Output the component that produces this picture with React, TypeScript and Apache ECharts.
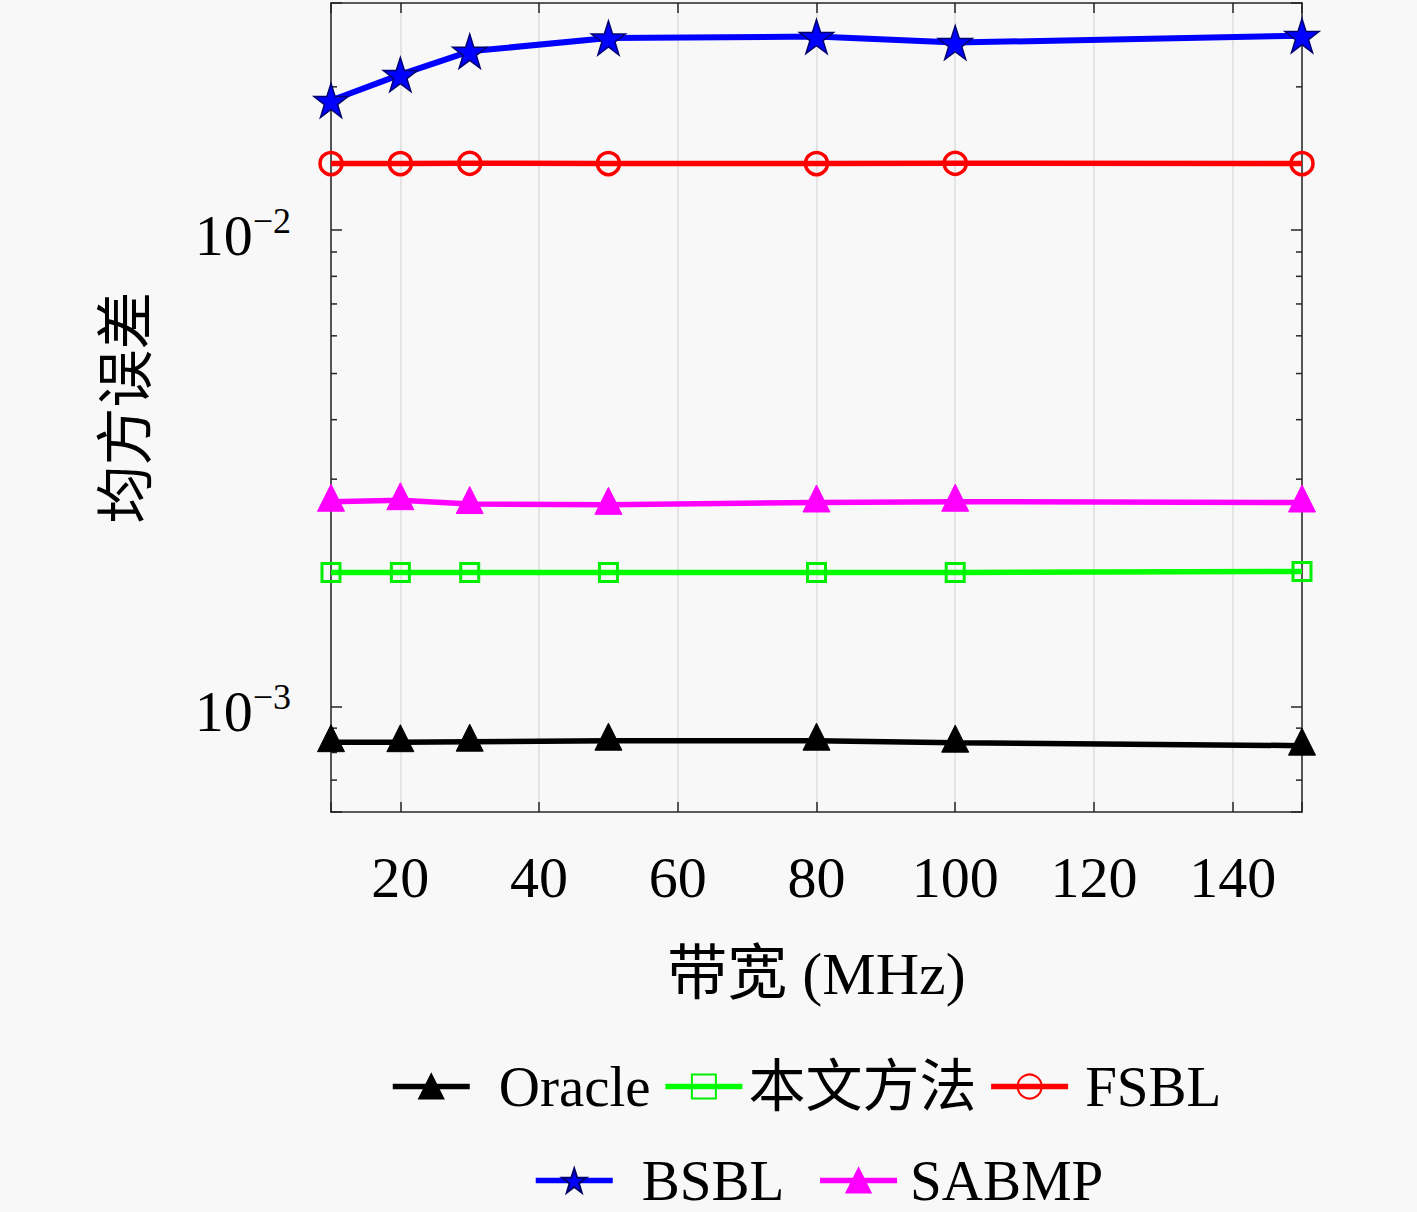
import React, { useEffect, useRef } from "react";
import * as echarts from "echarts";

const X_VALUES = [10, 20, 30, 50, 80, 100, 150];
const X_TICK_LABELS = [20, 40, 60, 80, 100, 120, 140];
const ORACLE = [0.000841, 0.000841, 0.000843, 0.000847, 0.000847, 0.000839, 0.000827];
const PROPOSED = [0.00191, 0.00191, 0.00191, 0.00191, 0.00191, 0.00191, 0.00192];
const FSBL = [0.0138, 0.0138, 0.01382, 0.0138, 0.0138, 0.01382, 0.0138];
const BSBL = [0.01872, 0.02122, 0.02375, 0.02533, 0.0255, 0.02477, 0.02562];
const SABMP = [0.00269, 0.00271, 0.00266, 0.00265, 0.00268, 0.00269, 0.00268];
const Y_TICK_LABELS = [0.001, 0.01];
const Y_MINOR_TICKS = [0.0007, 0.0008, 0.0009, 0.002, 0.003, 0.004, 0.005, 0.006, 0.007, 0.008, 0.009, 0.02];

const X_MIN = 10;
const X_MAX = 150;
const Y_MIN = 0.0006;
const Y_MAX = 0.03;

const FONT = "'Liberation Serif', 'Noto Sans CJK SC', serif";
const AXIS_COLOR = "#262626";
const STAR =
  "path://M50,0 L61.8,35.4 L98.9,35.4 L68.9,57.3 L80.3,92.7 L50,70.8 L19.7,92.7 L31.1,57.3 L1.1,35.4 L38.2,35.4 Z";

const pair = (ys: number[]) => X_VALUES.map((x, i) => [x, ys[i]]);

export default function App() {
  const ref = useRef<HTMLDivElement>(null);
  useEffect(() => {
    if (!ref.current) return;
    const chart = echarts.init(ref.current, undefined, { renderer: "svg" });
    const axisLineStyle = { color: AXIS_COLOR, width: 1.5 };
    const LW = 5.5;
    const legendText = { fontSize: 57, lineHeight: 54, fontFamily: FONT, color: "#000" };
    const option: any = {
      animation: false,
      backgroundColor: "#f8f8f8",
      grid: { left: 331, right: 115, top: 3, bottom: 400 },
      legend: [
        {
          left: 390,
          top: 1058,
          padding: 0,
          itemWidth: 77,
          itemHeight: 30,
          itemGap: 12,
          lineStyle: { width: LW },
          textStyle: legendText,
          data: [
            { name: "Oracle", textStyle: { padding: [0, 0, 0, 24] } },
            { name: "本文方法", textStyle: { padding: [0, 0, 0, 1] } },
            { name: "FSBL", textStyle: { padding: [0, 0, 0, 12] } },
          ],
        },
        {
          left: 533,
          top: 1152,
          padding: 0,
          itemWidth: 77,
          itemHeight: 30,
          itemGap: 33,
          lineStyle: { width: LW },
          textStyle: legendText,
          data: [
            { name: "BSBL", textStyle: { padding: [0, 0, 0, 24] } },
            { name: "SABMP", textStyle: { padding: [0, 0, 0, 8] } },
          ],
        },
      ],
      xAxis: [
        {
          type: "value",
          min: X_MIN,
          max: X_MAX,
          splitNumber: 7,
          position: "bottom",
          axisLine: { show: true, onZero: false, lineStyle: axisLineStyle },
          axisTick: { show: true, inside: true, length: 10, lineStyle: axisLineStyle },
          axisLabel: {
            margin: 36,
            fontSize: 58,
            fontFamily: FONT,
            color: "#000",
            formatter: (v: number) => (X_TICK_LABELS.includes(v) ? String(v) : ""),
          },
          splitLine: { show: true, lineStyle: { color: "#e4e4e4", width: 2 } },
          name: "带宽 (MHz)",
          nameLocation: "middle",
          nameGap: 132,
          nameTextStyle: { fontSize: 60, fontFamily: FONT, color: "#000" },
        },
        {
          type: "value",
          min: X_MIN,
          max: X_MAX,
          splitNumber: 7,
          position: "top",
          axisLine: { show: true, onZero: false, lineStyle: axisLineStyle },
          axisTick: { show: true, inside: true, length: 10, lineStyle: axisLineStyle },
          axisLabel: { show: false },
          splitLine: { show: false },
        },
      ],
      yAxis: [
        {
          type: "log",
          logBase: 10,
          min: Y_MIN,
          max: Y_MAX,
          position: "left",
          axisLine: { show: true, onZero: false, lineStyle: axisLineStyle },
          axisTick: { show: true, inside: true, length: 11, lineStyle: axisLineStyle },
          splitLine: { show: false },
          minorTick: { show: false },
          minorSplitLine: { show: false },
          axisLabel: {
            margin: 40,
            color: "#000",
            fontFamily: FONT,
            padding: [10, 0, 0, 0],
            formatter: (v: number) => {
              const hit = Y_TICK_LABELS.find((t) => Math.abs(v - t) / t < 1e-6);
              if (hit === undefined) return "";
              const e = Math.round(Math.log10(hit));
              return "{b|10}{s|" + (e < 0 ? "\u2212" : "") + Math.abs(e) + "}";
            },
            rich: {
              b: { fontSize: 58, fontFamily: FONT, color: "#000", lineHeight: 64 },
              s: { fontSize: 36, fontFamily: FONT, color: "#000", lineHeight: 62, verticalAlign: "top" },
            },
          },
          name: "均方误差",
          nameLocation: "middle",
          nameRotate: 90,
          nameGap: 176,
          nameTextStyle: { fontSize: 58, fontFamily: FONT, color: "#000" },
        },
        {
          type: "log",
          logBase: 10,
          min: Y_MIN,
          max: Y_MAX,
          position: "right",
          axisLine: { show: true, onZero: false, lineStyle: axisLineStyle },
          axisTick: { show: true, inside: true, length: 11, lineStyle: axisLineStyle },
          axisLabel: { show: false },
          splitLine: { show: false },
        },
      ],
      series: [
        {
          name: "Oracle",
          type: "line",
          data: pair(ORACLE),
          symbol: "triangle",
          symbolSize: 27,
          symbolOffset: [0, -4],
          lineStyle: { color: "#000000", width: LW },
          itemStyle: { color: "#000000", borderColor: "#000000", borderWidth: 1 },
          z: 5,
        },
        {
          name: "本文方法",
          type: "line",
          data: pair(PROPOSED),
          symbol: "rect",
          symbolSize: 18,
          lineStyle: { color: "#00ff00", width: LW },
          itemStyle: { color: "rgba(0,0,0,0)", borderColor: "#00ee00", borderWidth: 3 },
          z: 5,
        },
        {
          name: "FSBL",
          type: "line",
          data: pair(FSBL),
          symbol: "circle",
          symbolSize: 22,
          lineStyle: { color: "#ff0000", width: LW },
          itemStyle: { color: "rgba(0,0,0,0)", borderColor: "#ff0000", borderWidth: 3.5 },
          z: 5,
        },
        {
          name: "BSBL",
          type: "line",
          data: pair(BSBL),
          symbol: STAR,
          symbolSize: 34,
          lineStyle: { color: "#0000ff", width: LW + 0.5 },
          itemStyle: { color: "#0000ff", borderColor: "#00006e", borderWidth: 1.5 },
          z: 5,
        },
        {
          name: "SABMP",
          type: "line",
          data: pair(SABMP),
          symbol: "triangle",
          symbolSize: 27,
          symbolOffset: [0, -4],
          lineStyle: { color: "#ff00ff", width: LW },
          itemStyle: { color: "#ff00ff", borderColor: "#ff00ff", borderWidth: 1 },
          z: 5,
        },
        {
          name: "minorTicks",
          type: "custom",
          silent: true,
          xAxisIndex: 0,
          yAxisIndex: 0,
          data: Y_MINOR_TICKS.map((v) => [X_MIN, v]),
          renderItem: (_params: any, api: any) => {
            const v = api.value(1);
            const pL = api.coord([X_MIN, v]);
            const pR = api.coord([X_MAX, v]);
            const style = { stroke: AXIS_COLOR, lineWidth: 1.5 };
            return {
              type: "group",
              children: [
                { type: "line", shape: { x1: pL[0], y1: pL[1], x2: pL[0] + 6, y2: pL[1] }, style },
                { type: "line", shape: { x1: pR[0] - 6, y1: pR[1], x2: pR[0], y2: pR[1] }, style },
              ],
            };
          },
          z: 3,
        },
      ],
    };
    chart.setOption(option);
    return () => chart.dispose();
  }, []);
  return (
    <div
      ref={ref}
      style={{ position: "fixed", left: 0, top: 0, width: 1417, height: 1212 }}
    />
  );
}
